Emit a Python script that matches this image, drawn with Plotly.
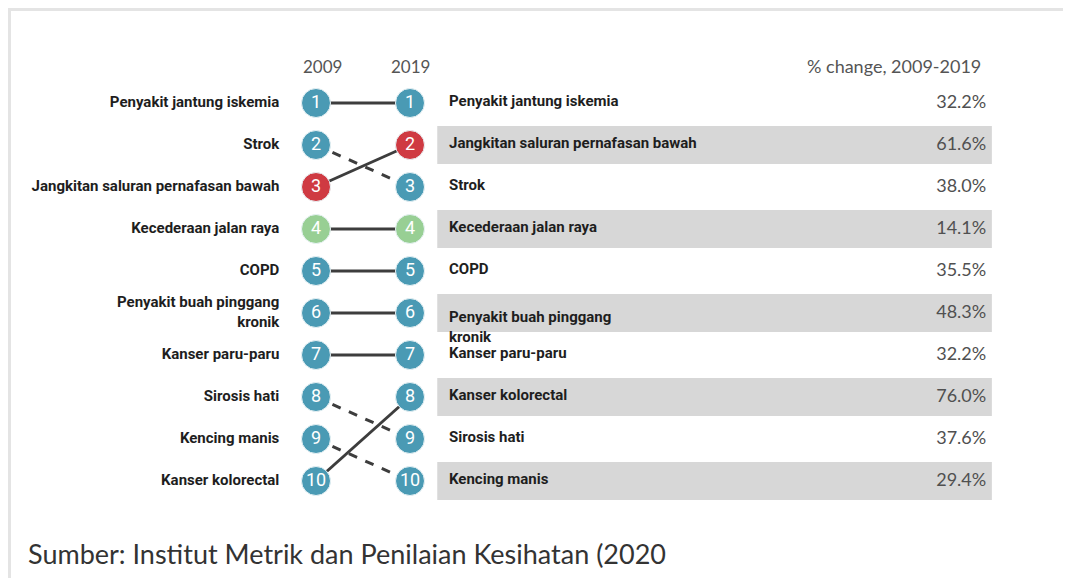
import plotly.graph_objects as go

# --- data -------------------------------------------------------------
diseases = [
    "Penyakit jantung iskemia", "Strok", "Jangkitan saluran pernafasan bawah",
    "Kecederaan jalan raya", "COPD", "Penyakit buah pinggang<br>kronik",
    "Kanser paru-paru", "Sirosis hati", "Kencing manis", "Kanser kolorectal",
]
rank_2009 = [1, 2, 3, 4, 5, 6, 7, 8, 9, 10]
rank_2019 = [1, 3, 2, 4, 5, 6, 7, 9, 10, 8]
pct_change = [32.2, 38.0, 61.6, 14.1, 35.5, 48.3, 32.2, 37.6, 29.4, 76.0]
group = ["cv", "cv", "comm", "injury", "cv", "cv", "cv", "cv", "cv", "cv"]
shaded_rows = [2, 4, 6, 8, 10]
years = ["2009", "2019"]

COLORS = {"cv": "#4a9ab4", "comm": "#cf3a42", "injury": "#98cf94"}
LABEL_FONT = "Liberation Sans Narrow, Roboto, Arial Narrow, sans-serif"
NUM_FONT = "Lato, Open Sans, sans-serif"

# the page body adds an 8px margin, so the figure is drawn a bit smaller
OFF = 8
W, H = 1071 - OFF, 578 - OFF
X0_PX, UNIT_X = 316 - OFF, 94      # x=0 -> 2009 column, x=1 -> 2019 column
Y0_PX, UNIT_Y = 103 - OFF, 42      # rank 1 row, spacing per rank
x_range = [-X0_PX / UNIT_X, (W - X0_PX) / UNIT_X]
y_range = [1 + (H - Y0_PX) / UNIT_Y, 1 - Y0_PX / UNIT_Y]

fig = go.Figure()

# grey bands behind alternate rows of the right table
for r in shaded_rows:
    fig.add_shape(type="rect", xref="x", yref="y",
                  x0=1.29, x1=7.19, y0=r - 0.45, y1=r + 0.45,
                  fillcolor="#d7d7d7", line_width=0, layer="below")

# connecting lines (dashed when the rank dropped)
for d, a, b in zip(diseases, rank_2009, rank_2019):
    fig.add_trace(go.Scatter(
        x=[0, 1], y=[a, b], mode="lines",
        line=dict(color="#3d3d3d", width=3, dash="dash" if b > a else "solid"),
        hoverinfo="skip", showlegend=False,
    ))

# rank circles
marker_colors = [COLORS[g] for g in group]
for xi, ranks in [(0, rank_2009), (1, rank_2019)]:
    fig.add_trace(go.Scatter(
        x=[xi] * len(ranks), y=ranks, mode="markers+text",
        marker=dict(size=29, color=marker_colors, line=dict(color="#e8f2f5", width=1)),
        text=[str(r) for r in ranks], textposition="middle center",
        textfont=dict(family=LABEL_FONT, size=18, color="white"),
        hovertext=diseases, hoverinfo="text", showlegend=False,
    ))

# left labels (2009 order)
fig.add_trace(go.Scatter(
    x=[-0.39] * len(diseases), y=rank_2009, mode="text",
    text=["<b>%s</b>" % d for d in diseases], textposition="middle left",
    textfont=dict(family=LABEL_FONT, size=15, color="#1e1e1e"),
    hoverinfo="skip", showlegend=False,
))

# right labels (2019 order) + % change
for d, r in zip(diseases, rank_2019):
    fig.add_annotation(
        x=1.39, y=r, xref="x", yref="y", text="<b>%s</b>" % d,
        showarrow=False, xanchor="left", yanchor="middle", align="left",
        yshift=-14 if "<br>" in d else 2,
        font=dict(family=LABEL_FONT, size=15, color="#1e1e1e"),
    )
fig.add_trace(go.Scatter(
    x=[7.13] * len(pct_change), y=rank_2019, mode="text",
    text=["%.1f%%" % p for p in pct_change], textposition="middle left",
    textfont=dict(family=NUM_FONT, size=18, color="#505050"),
    hoverinfo="skip", showlegend=False,
))

# column headers
for xi, yr in enumerate(years):
    fig.add_annotation(x=xi + (0.07 if xi == 0 else 0), y=0.12, xref="x", yref="y",
                       text=yr, showarrow=False,
                       font=dict(family=NUM_FONT, size=17, color="#555555"))
fig.add_annotation(x=7.1, y=0.12, xref="x", yref="y", text="% change, 2009-2019",
                   showarrow=False, xanchor="right",
                   font=dict(family=NUM_FONT, size=18, color="#555555"))

# source line
fig.add_annotation(x=(26 - OFF) / W, y=1 - (553 - OFF) / H, xref="paper", yref="paper",
                   text="Sumber: Institut Metrik dan Penilaian Kesihatan (2020",
                   showarrow=False, xanchor="left", yanchor="middle",
                   font=dict(family=NUM_FONT, size=27, color="#333333"))

# frame lines top/left
fig.add_shape(type="line", xref="paper", yref="paper",
              x0=0, x1=1, y0=1 - 1.5 / H, y1=1 - 1.5 / H,
              line=dict(color="#e4e4e4", width=3))
fig.add_shape(type="line", xref="paper", yref="paper",
              x0=1.5 / W, x1=1.5 / W, y0=0, y1=1,
              line=dict(color="#e4e4e4", width=3))

fig.update_xaxes(range=x_range, visible=False, fixedrange=True)
fig.update_yaxes(range=y_range, visible=False, fixedrange=True)
fig.update_layout(
    width=W, height=H,
    margin=dict(l=0, r=0, t=0, b=0),
    plot_bgcolor="white", paper_bgcolor="white",
    showlegend=False,
)

fig.write_html("out.html")
